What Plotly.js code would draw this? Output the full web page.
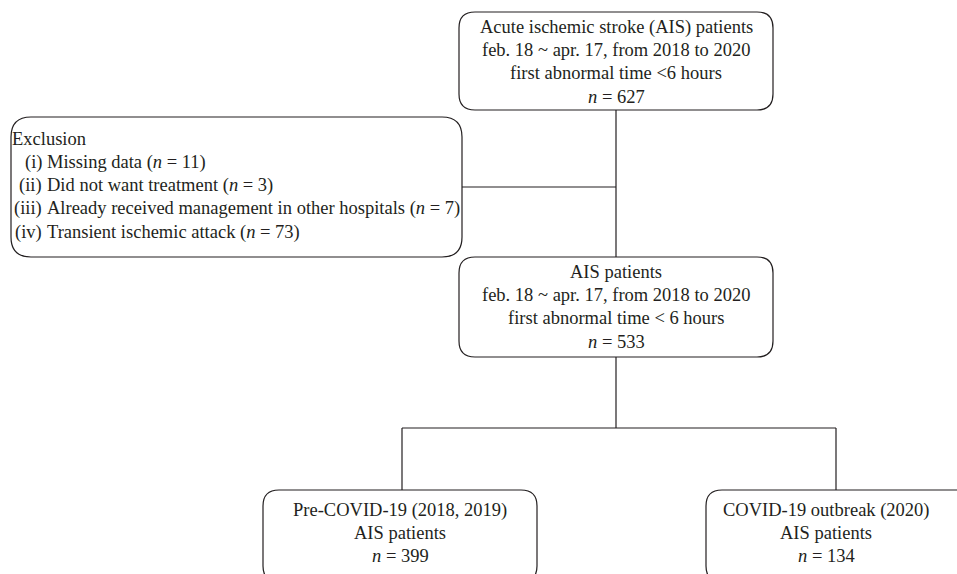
<!DOCTYPE html>
<html>
<head>
<meta charset="utf-8">
<script src="https://cdn.plot.ly/plotly-3.0.1.min.js"></script>
<style>html,body{margin:0;padding:0;background:#fff}#chart{width:957px;height:574px}</style>
</head>
<body>
<div id="chart"></div>
<script>
// ---- data ----
const stageTitles = [
  ["Acute ischemic stroke (AIS) patients", "feb. 18 ~ apr. 17, from 2018 to 2020", "first abnormal time &lt;6 hours"],
  ["AIS patients", "feb. 18 ~ apr. 17, from 2018 to 2020", "first abnormal time &lt; 6 hours"]
];
const stageCounts = [627, 533];
const exclusionLabels = ["(i)", "(ii)", "(iii)", "(iv)"];
const exclusionReasons = ["Missing data", "Did not want treatment", "Already received management in other hospitals", "Transient ischemic attack"];
const exclusionCounts = [11, 3, 7, 73];
const groupTitles = [["Pre-COVID-19 (2018, 2019)", "AIS patients"], ["COVID-19 outbreak (2020)", "AIS patients"]];
const groupCounts = [399, 134];

// ---- layout geometry (pixel space of the figure) ----
const INK = "#231f20";
const FONT = {family: "Liberation Serif, Times New Roman, serif", size: 18.5, color: INK};
const LH = 23.2;
const boxes = {
  top:  {x0: 459, x1: 773, y0: 12,  y1: 110, r: 16, cx: 616, ty: 27},
  excl: {x0: 11,  x1: 462, y0: 117, y1: 257, r: 20},
  mid:  {x0: 459, x1: 773, y0: 257, y1: 357, r: 16, cx: 616, ty: 272},
  left: {x0: 263, x1: 537, y0: 490, y1: 582, r: 16, cx: 400, ty: 510},
  right:{x0: 706, x1: 1010, y0: 490, y1: 582, r: 16, cx: 826, ty: 510}
};
function rr(b) {
  const {x0, x1, y0, y1, r} = b;
  return `M${x0 + r},${y0} L${x1 - r},${y0} Q${x1},${y0} ${x1},${y0 + r} L${x1},${y1 - r} Q${x1},${y1} ${x1 - r},${y1} L${x0 + r},${y1} Q${x0},${y1} ${x0},${y1 - r} L${x0},${y0 + r} Q${x0},${y0} ${x0 + r},${y0} Z`;
}
const lineStyle = {color: INK, width: 1.2};
const shapes = Object.values(boxes).map(b => ({type: "path", xref: "x", yref: "y", path: rr(b), line: lineStyle}));
function seg(x0, y0, x1, y1) { return {type: "line", xref: "x", yref: "y", x0, y0, x1, y1, line: lineStyle}; }
const splitY = 428;
shapes.push(seg(616, 110, 616, 257));
shapes.push(seg(462, 187, 616, 187));
shapes.push(seg(616, 357, 616, splitY));
shapes.push(seg(boxes.left.cx + 2, splitY, 836, splitY));
shapes.push(seg(boxes.left.cx + 2, splitY, boxes.left.cx + 2, 490));
shapes.push(seg(836, splitY, 836, 490));

const annotations = [];
function txt(x, y, text, anchor) {
  annotations.push({xref: "x", yref: "y", x, y, text, showarrow: false, xanchor: anchor || "center", yanchor: "middle", font: FONT});
}
// stage boxes
[boxes.top, boxes.mid].forEach((b, i) => {
  stageTitles[i].forEach((t, k) => txt(b.cx, b.ty + k * LH, t));
  txt(b.cx, b.ty + 3 * LH, "<i>n</i> = " + stageCounts[i]);
});
// exclusion box
txt(10, 139, "Exclusion", "left");
exclusionLabels.forEach((lab, k) => {
  const y = 139 + (k + 1) * 23.3;
  txt(44, y, lab, "right");
  txt(45, y, exclusionReasons[k] + " (<i>n</i> = " + exclusionCounts[k] + ")", "left");
});
// group boxes
[boxes.left, boxes.right].forEach((b, i) => {
  groupTitles[i].forEach((t, k) => txt(b.cx, b.ty + k * LH, t));
  txt(b.cx, b.ty + 2 * LH, "<i>n</i> = " + groupCounts[i]);
});

const layout = {
  width: 957, height: 574,
  margin: {l: 0, r: 0, t: 0, b: 0, pad: 0},
  paper_bgcolor: "#fff", plot_bgcolor: "#fff",
  showlegend: false,
  xaxis: {range: [0, 957], visible: false, fixedrange: true},
  yaxis: {range: [574, 0], visible: false, fixedrange: true},
  shapes, annotations
};
Plotly.newPlot("chart", [], layout, {staticPlot: true, displayModeBar: false});
</script>
</body>
</html>
